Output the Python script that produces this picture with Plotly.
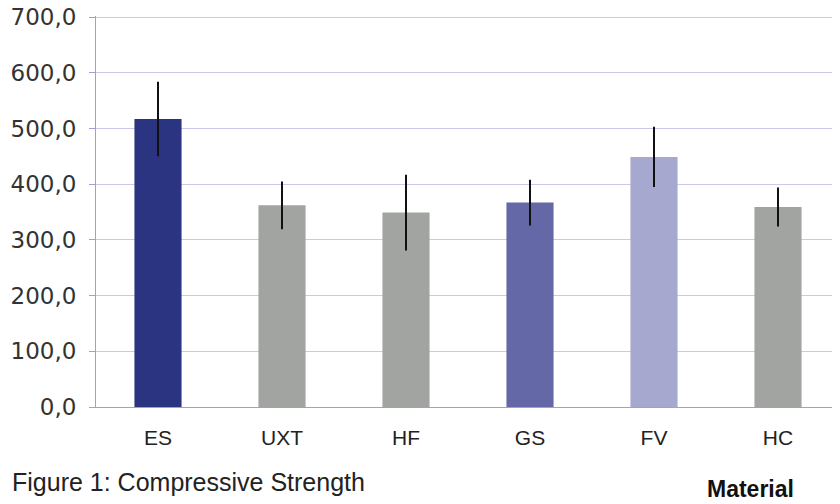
import plotly.graph_objects as go

categories = ["ES", "UXT", "HF", "GS", "FV", "HC"]
strength = [517, 362, 349, 367, 449, 359]
error = [67, 43, 68, 41, 54, 35]
bar_colors = ["#2b3481", "#a2a4a2", "#a2a4a2", "#6468a6", "#a7a8cf", "#a2a4a2"]
y_ticks = [0, 100, 200, 300, 400, 500, 600, 700]

fig = go.Figure(go.Bar(
    x=categories, y=strength, width=0.38,
    marker=dict(color=bar_colors, line=dict(width=0)),
    error_y=dict(type="data", array=error, visible=True, color="#111111", thickness=2, width=0),
))

# page body has an 8px margin, so figure coordinates are offset by 8px
fig.update_layout(
    width=840, height=504,
    margin=dict(l=88, r=8, t=8, b=105, autoexpand=False),
    plot_bgcolor="white", paper_bgcolor="white",
    separators=",.",
    showlegend=False,
    font=dict(family="Liberation Sans, Arial, sans-serif", color="#333333"),
)
fig.update_xaxes(
    range=[-0.5, 5.5], showgrid=False, automargin=False,
    showline=True, linecolor="#9c9fd8", linewidth=1,
    ticks="", ticklabelstandoff=12, tickfont=dict(size=21, color="#222222"),
)
fig.update_yaxes(
    range=[0, 702], tickvals=y_ticks, tickformat=".1f", automargin=False,
    showgrid=True, gridcolor="#cacae8", gridwidth=1,
    showline=True, linecolor="#9c9fd8", linewidth=1,
    ticks="outside", ticklen=6, tickcolor="#9c9fd8",
    ticklabelstandoff=8, ticklabeloverflow="allow",
    tickfont=dict(family="DejaVu Sans, sans-serif", size=23, color="#333333"),
    zeroline=False,
)
fig.add_annotation(text="Figure 1: Compressive Strength", xref="paper", yref="paper",
                   x=(2-88)/744, y=-(474-399)/391, xanchor="left", yanchor="middle", showarrow=False,
                   font=dict(size=25, color="#222222"))
fig.add_annotation(text="<b>Material</b>", xref="paper", yref="paper",
                   x=(697-88)/744, y=-(481-399)/391, xanchor="left", yanchor="middle", showarrow=False,
                   font=dict(size=23, color="#111111"))

fig.write_html("out.html")
